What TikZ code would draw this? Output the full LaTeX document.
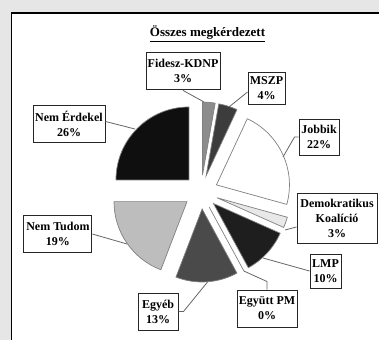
\documentclass[tikz,border=0pt]{standalone}
\usepackage{fontspec}
\setmainfont{Liberation Serif}
\usetikzlibrary{calc}
\definecolor{bggray}{HTML}{E6E6E6}
\definecolor{cfid}{HTML}{8C8C8C}
\definecolor{cmsz}{HTML}{3C3C3C}
\definecolor{cjob}{HTML}{FFFFFF}
\definecolor{cdk}{HTML}{E8E8E8}
\definecolor{clmp}{HTML}{1E1E1E}
\definecolor{cegb}{HTML}{4A4A4A}
\definecolor{cnt}{HTML}{BDBDBD}
\definecolor{cne}{HTML}{0F0F0F}
\newcommand\pieslice[3]{%
  \filldraw[slice, fill=#3] ($(201,192)+({-(#1+#2)/2}:17)$) -- ++({-#1}:73)
    arc[start angle={-#1}, end angle={-#2}, radius=73] -- cycle;}
\begin{document}
\begin{tikzpicture}[x=1pt,y=-1pt,
  lbl/.style={draw=black!85, line width=1pt, fill=white, align=center,
    font=\bfseries\fontsize{12}{15}\selectfont, inner sep=0pt},
  slice/.style={draw=black!50, line width=0.7pt},
  lead/.style={draw=black!60, line width=0.8pt}]
\useasboundingbox (0,0) rectangle (379,340);
\fill[bggray] (0,0) rectangle (379,340);
\fill[white] (11.5,13) rectangle (379,340);
\draw[line width=1.4pt] (11.7,340) -- (11.7,13) -- (379,13);

\node[font=\bfseries\fontsize{13}{15}\selectfont] (title) at (207.5,34) {\underline{Összes megkérdezett}};

% slices
\pieslice{90}{80}{cfid}
\pieslice{80}{65}{cmsz}
\pieslice{65}{-15.5}{cjob}
\pieslice{-15.5}{-24}{cdk}
\pieslice{-24}{-61.5}{clmp}
\pieslice{-61.5}{-111}{cegb}
\pieslice{-111}{-180}{cnt}
\pieslice{-180}{-270}{cne}
\draw[slice] ($(201,192)+(61.5:17)$) -- ++(61.5:73) coordinate (egyE);

% labels
\node[lbl, minimum width=74, minimum height=37] (fid) at (183,71.4) {Fidesz-KDNP\\3\%};
\node[lbl, minimum width=37, minimum height=32] (msz) at (266.5,88) {MSZP\\4\%};
\node[lbl, minimum width=40, minimum height=36] (job) at (319,137) {Jobbik\\22\%};
\node[lbl, minimum width=80, minimum height=50] (dk) at (337,218) {Demokratikus\\Koalíció\\3\%};
\node[lbl, minimum width=31, minimum height=34] (lmp) at (325.5,271) {LMP\\10\%};
\node[lbl, minimum width=60, minimum height=37] (egy) at (267,308.5) {Együtt PM\\0\%};
\node[lbl, minimum width=40, minimum height=37] (egb) at (158,311.5) {Egyéb\\13\%};
\node[lbl, minimum width=68, minimum height=37] (nt) at (57.9,234) {Nem Tudom\\19\%};
\node[lbl, minimum width=72, minimum height=37] (ne) at (69,123.5) {Nem Érdekel\\26\%};

% leader ends
\coordinate (fidE) at (204,102);
\coordinate (mszE) at (229,107);
\coordinate (jobE) at (283,157);
\coordinate (dkE) at (285,230);
\coordinate (lmpE) at (263,258);
\coordinate (egbE) at (207.5,282);
\coordinate (ntE) at (127,244);
\coordinate (neE) at (135,129);

\draw[lead] (fid.south) -- (fidE);
\draw[lead] ([yshift=-4pt]msz.west) -- (mszE);
\draw[lead] (job.west) -- ++(-4,0) -- (jobE);
\draw[lead] ([yshift=-9pt]dk.west) -- (dkE);
\draw[lead] (lmp.west) -- (lmpE);
\draw[lead] (egy.north) -- ++(0,-8) -- (egyE);
\draw[lead] (egb.east) -- ++(5,0) -- (egbE);
\draw[lead] (nt.east) -- (ntE);
\draw[lead] ([yshift=2pt]ne.east) -- (neE);
\end{tikzpicture}
\end{document}
